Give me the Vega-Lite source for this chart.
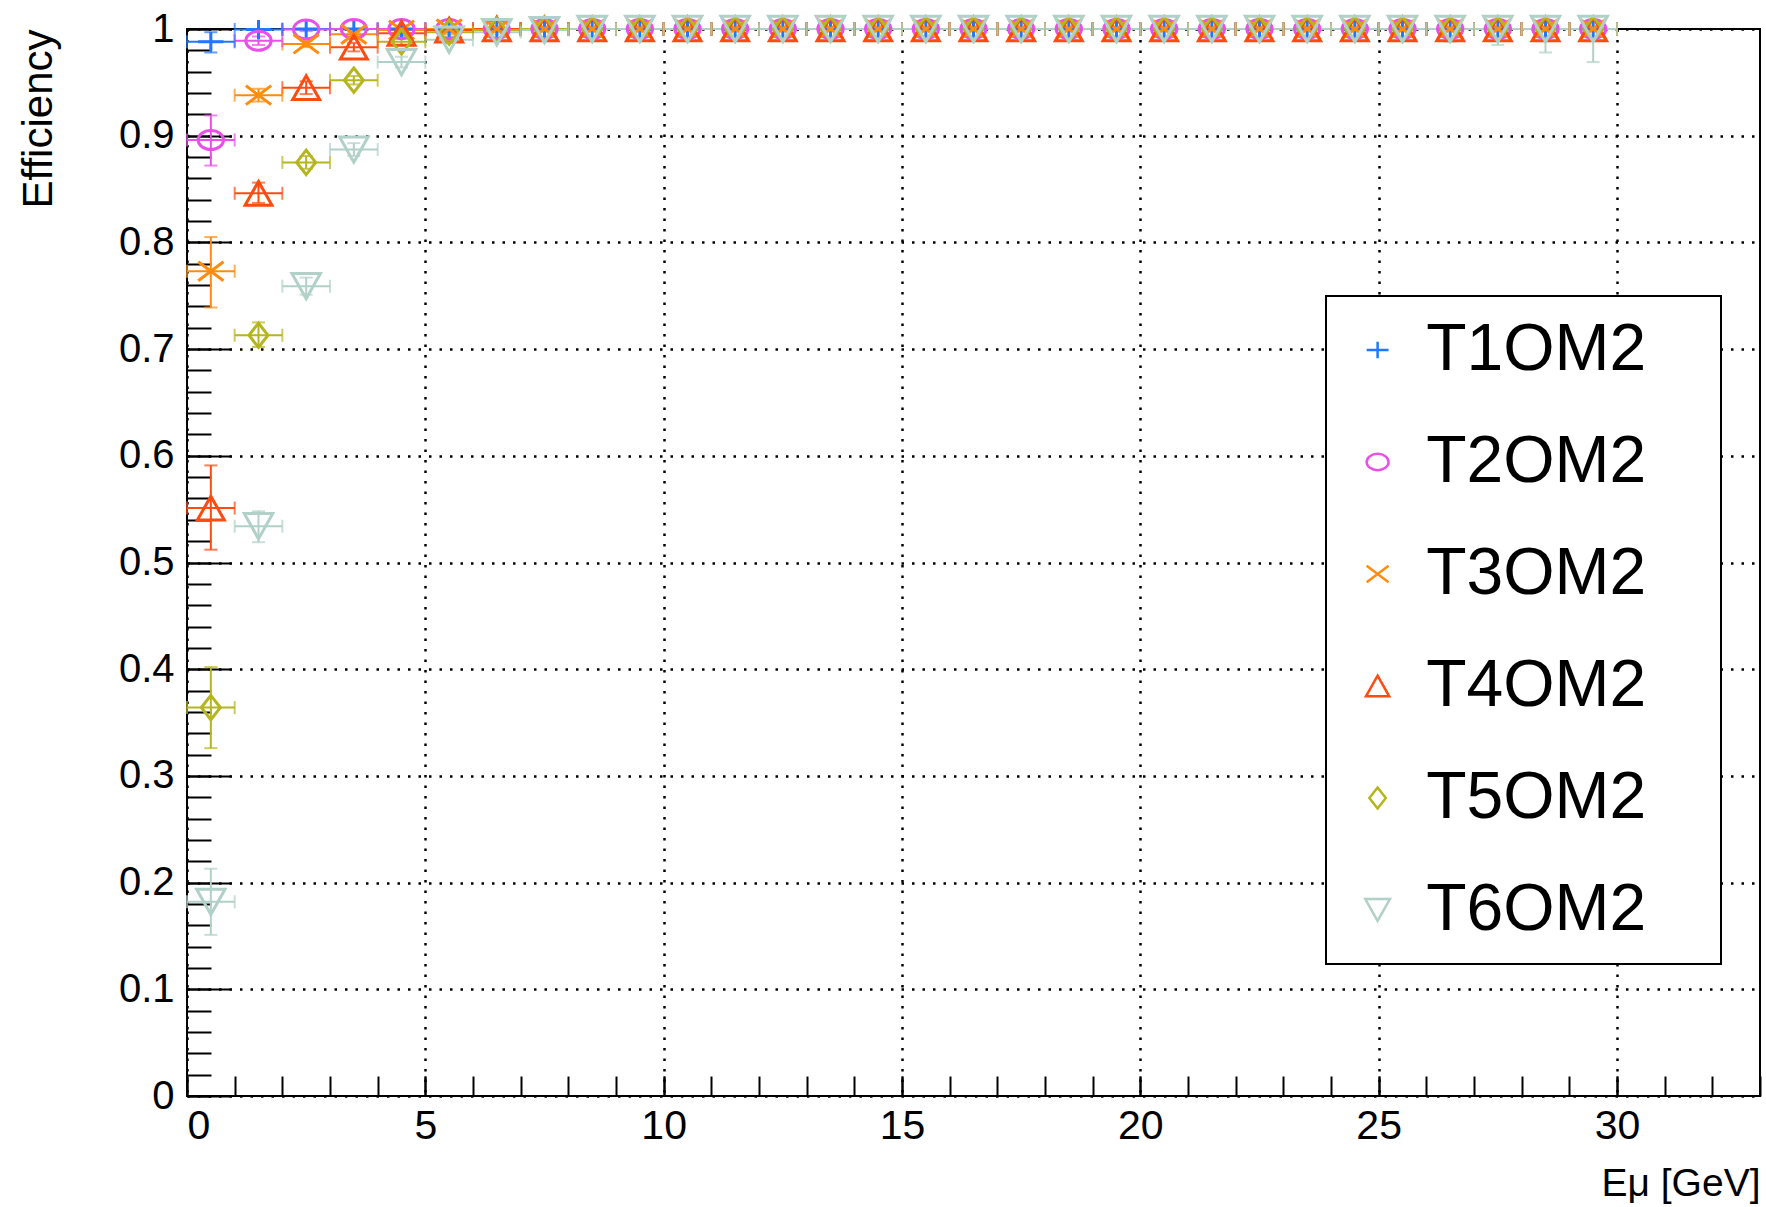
{
"$schema": "https://vega.github.io/schema/vega-lite/v6.json",
"autosize": {"type": "none"},
"width": 1573, "height": 1067,
"padding": {"left": 187, "top": 29, "right": 6, "bottom": 111},
"background": "white",
"config": {"font": "Liberation Sans", "view": {"stroke": "black", "strokeWidth": 2}, "legend": {"strokeWidth": 2}},
"data": {"values": [
{"s":"T1OM2","x":0.5,"xl":0,"xh":1,"y":0.988,"yl":0.978,"yh":0.997},
{"s":"T1OM2","x":1.5,"xl":1,"xh":2,"y":0.9995,"yl":0.998,"yh":1},
{"s":"T1OM2","x":2.5,"xl":2,"xh":3,"y":1,"yl":1,"yh":1},
{"s":"T1OM2","x":3.5,"xl":3,"xh":4,"y":1,"yl":1,"yh":1},
{"s":"T1OM2","x":4.5,"xl":4,"xh":5,"y":1,"yl":1,"yh":1},
{"s":"T1OM2","x":5.5,"xl":5,"xh":6,"y":1,"yl":1,"yh":1},
{"s":"T1OM2","x":6.5,"xl":6,"xh":7,"y":1,"yl":1,"yh":1},
{"s":"T1OM2","x":7.5,"xl":7,"xh":8,"y":1,"yl":1,"yh":1},
{"s":"T1OM2","x":8.5,"xl":8,"xh":9,"y":1,"yl":1,"yh":1},
{"s":"T1OM2","x":9.5,"xl":9,"xh":10,"y":1,"yl":1,"yh":1},
{"s":"T1OM2","x":10.5,"xl":10,"xh":11,"y":1,"yl":1,"yh":1},
{"s":"T1OM2","x":11.5,"xl":11,"xh":12,"y":1,"yl":1,"yh":1},
{"s":"T1OM2","x":12.5,"xl":12,"xh":13,"y":1,"yl":1,"yh":1},
{"s":"T1OM2","x":13.5,"xl":13,"xh":14,"y":1,"yl":1,"yh":1},
{"s":"T1OM2","x":14.5,"xl":14,"xh":15,"y":1,"yl":1,"yh":1},
{"s":"T1OM2","x":15.5,"xl":15,"xh":16,"y":1,"yl":1,"yh":1},
{"s":"T1OM2","x":16.5,"xl":16,"xh":17,"y":1,"yl":1,"yh":1},
{"s":"T1OM2","x":17.5,"xl":17,"xh":18,"y":1,"yl":1,"yh":1},
{"s":"T1OM2","x":18.5,"xl":18,"xh":19,"y":1,"yl":1,"yh":1},
{"s":"T1OM2","x":19.5,"xl":19,"xh":20,"y":1,"yl":1,"yh":1},
{"s":"T1OM2","x":20.5,"xl":20,"xh":21,"y":1,"yl":1,"yh":1},
{"s":"T1OM2","x":21.5,"xl":21,"xh":22,"y":1,"yl":1,"yh":1},
{"s":"T1OM2","x":22.5,"xl":22,"xh":23,"y":1,"yl":1,"yh":1},
{"s":"T1OM2","x":23.5,"xl":23,"xh":24,"y":1,"yl":1,"yh":1},
{"s":"T1OM2","x":24.5,"xl":24,"xh":25,"y":1,"yl":1,"yh":1},
{"s":"T1OM2","x":25.5,"xl":25,"xh":26,"y":1,"yl":1,"yh":1},
{"s":"T1OM2","x":26.5,"xl":26,"xh":27,"y":1,"yl":1,"yh":1},
{"s":"T1OM2","x":27.5,"xl":27,"xh":28,"y":1,"yl":1,"yh":1},
{"s":"T1OM2","x":28.5,"xl":28,"xh":29,"y":1,"yl":1,"yh":1},
{"s":"T1OM2","x":29.5,"xl":29,"xh":30,"y":1,"yl":1,"yh":1},
{"s":"T2OM2","x":0.5,"xl":0,"xh":1,"y":0.896,"yl":0.872,"yh":0.919},
{"s":"T2OM2","x":1.5,"xl":1,"xh":2,"y":0.989,"yl":0.985,"yh":0.993},
{"s":"T2OM2","x":2.5,"xl":2,"xh":3,"y":0.9995,"yl":0.998,"yh":1},
{"s":"T2OM2","x":3.5,"xl":3,"xh":4,"y":1,"yl":1,"yh":1},
{"s":"T2OM2","x":4.5,"xl":4,"xh":5,"y":1,"yl":1,"yh":1},
{"s":"T2OM2","x":5.5,"xl":5,"xh":6,"y":1,"yl":1,"yh":1},
{"s":"T2OM2","x":6.5,"xl":6,"xh":7,"y":1,"yl":1,"yh":1},
{"s":"T2OM2","x":7.5,"xl":7,"xh":8,"y":1,"yl":1,"yh":1},
{"s":"T2OM2","x":8.5,"xl":8,"xh":9,"y":1,"yl":1,"yh":1},
{"s":"T2OM2","x":9.5,"xl":9,"xh":10,"y":1,"yl":1,"yh":1},
{"s":"T2OM2","x":10.5,"xl":10,"xh":11,"y":1,"yl":1,"yh":1},
{"s":"T2OM2","x":11.5,"xl":11,"xh":12,"y":1,"yl":1,"yh":1},
{"s":"T2OM2","x":12.5,"xl":12,"xh":13,"y":1,"yl":1,"yh":1},
{"s":"T2OM2","x":13.5,"xl":13,"xh":14,"y":1,"yl":1,"yh":1},
{"s":"T2OM2","x":14.5,"xl":14,"xh":15,"y":1,"yl":1,"yh":1},
{"s":"T2OM2","x":15.5,"xl":15,"xh":16,"y":1,"yl":1,"yh":1},
{"s":"T2OM2","x":16.5,"xl":16,"xh":17,"y":1,"yl":1,"yh":1},
{"s":"T2OM2","x":17.5,"xl":17,"xh":18,"y":1,"yl":1,"yh":1},
{"s":"T2OM2","x":18.5,"xl":18,"xh":19,"y":1,"yl":1,"yh":1},
{"s":"T2OM2","x":19.5,"xl":19,"xh":20,"y":1,"yl":1,"yh":1},
{"s":"T2OM2","x":20.5,"xl":20,"xh":21,"y":1,"yl":1,"yh":1},
{"s":"T2OM2","x":21.5,"xl":21,"xh":22,"y":1,"yl":1,"yh":1},
{"s":"T2OM2","x":22.5,"xl":22,"xh":23,"y":1,"yl":1,"yh":1},
{"s":"T2OM2","x":23.5,"xl":23,"xh":24,"y":1,"yl":1,"yh":1},
{"s":"T2OM2","x":24.5,"xl":24,"xh":25,"y":1,"yl":1,"yh":1},
{"s":"T2OM2","x":25.5,"xl":25,"xh":26,"y":1,"yl":1,"yh":1},
{"s":"T2OM2","x":26.5,"xl":26,"xh":27,"y":1,"yl":1,"yh":1},
{"s":"T2OM2","x":27.5,"xl":27,"xh":28,"y":1,"yl":1,"yh":1},
{"s":"T2OM2","x":28.5,"xl":28,"xh":29,"y":1,"yl":1,"yh":1},
{"s":"T2OM2","x":29.5,"xl":29,"xh":30,"y":1,"yl":1,"yh":1},
{"s":"T3OM2","x":0.5,"xl":0,"xh":1,"y":0.773,"yl":0.739,"yh":0.805},
{"s":"T3OM2","x":1.5,"xl":1,"xh":2,"y":0.938,"yl":0.932,"yh":0.944},
{"s":"T3OM2","x":2.5,"xl":2,"xh":3,"y":0.986,"yl":0.983,"yh":0.989},
{"s":"T3OM2","x":3.5,"xl":3,"xh":4,"y":0.995,"yl":0.993,"yh":0.997},
{"s":"T3OM2","x":4.5,"xl":4,"xh":5,"y":0.999,"yl":0.998,"yh":1},
{"s":"T3OM2","x":5.5,"xl":5,"xh":6,"y":1,"yl":1,"yh":1},
{"s":"T3OM2","x":6.5,"xl":6,"xh":7,"y":1,"yl":1,"yh":1},
{"s":"T3OM2","x":7.5,"xl":7,"xh":8,"y":1,"yl":1,"yh":1},
{"s":"T3OM2","x":8.5,"xl":8,"xh":9,"y":1,"yl":1,"yh":1},
{"s":"T3OM2","x":9.5,"xl":9,"xh":10,"y":1,"yl":1,"yh":1},
{"s":"T3OM2","x":10.5,"xl":10,"xh":11,"y":1,"yl":1,"yh":1},
{"s":"T3OM2","x":11.5,"xl":11,"xh":12,"y":1,"yl":1,"yh":1},
{"s":"T3OM2","x":12.5,"xl":12,"xh":13,"y":1,"yl":1,"yh":1},
{"s":"T3OM2","x":13.5,"xl":13,"xh":14,"y":1,"yl":1,"yh":1},
{"s":"T3OM2","x":14.5,"xl":14,"xh":15,"y":1,"yl":1,"yh":1},
{"s":"T3OM2","x":15.5,"xl":15,"xh":16,"y":1,"yl":1,"yh":1},
{"s":"T3OM2","x":16.5,"xl":16,"xh":17,"y":1,"yl":1,"yh":1},
{"s":"T3OM2","x":17.5,"xl":17,"xh":18,"y":1,"yl":1,"yh":1},
{"s":"T3OM2","x":18.5,"xl":18,"xh":19,"y":1,"yl":1,"yh":1},
{"s":"T3OM2","x":19.5,"xl":19,"xh":20,"y":1,"yl":1,"yh":1},
{"s":"T3OM2","x":20.5,"xl":20,"xh":21,"y":1,"yl":1,"yh":1},
{"s":"T3OM2","x":21.5,"xl":21,"xh":22,"y":1,"yl":1,"yh":1},
{"s":"T3OM2","x":22.5,"xl":22,"xh":23,"y":1,"yl":1,"yh":1},
{"s":"T3OM2","x":23.5,"xl":23,"xh":24,"y":1,"yl":1,"yh":1},
{"s":"T3OM2","x":24.5,"xl":24,"xh":25,"y":1,"yl":1,"yh":1},
{"s":"T3OM2","x":25.5,"xl":25,"xh":26,"y":1,"yl":1,"yh":1},
{"s":"T3OM2","x":26.5,"xl":26,"xh":27,"y":1,"yl":1,"yh":1},
{"s":"T3OM2","x":27.5,"xl":27,"xh":28,"y":1,"yl":1,"yh":1},
{"s":"T3OM2","x":28.5,"xl":28,"xh":29,"y":1,"yl":1,"yh":1},
{"s":"T3OM2","x":29.5,"xl":29,"xh":30,"y":1,"yl":1,"yh":1},
{"s":"T4OM2","x":0.5,"xl":0,"xh":1,"y":0.551,"yl":0.512,"yh":0.591},
{"s":"T4OM2","x":1.5,"xl":1,"xh":2,"y":0.846,"yl":0.837,"yh":0.856},
{"s":"T4OM2","x":2.5,"xl":2,"xh":3,"y":0.945,"yl":0.939,"yh":0.951},
{"s":"T4OM2","x":3.5,"xl":3,"xh":4,"y":0.983,"yl":0.979,"yh":0.987},
{"s":"T4OM2","x":4.5,"xl":4,"xh":5,"y":0.996,"yl":0.994,"yh":0.998},
{"s":"T4OM2","x":5.5,"xl":5,"xh":6,"y":0.999,"yl":0.998,"yh":1},
{"s":"T4OM2","x":6.5,"xl":6,"xh":7,"y":1,"yl":1,"yh":1},
{"s":"T4OM2","x":7.5,"xl":7,"xh":8,"y":1,"yl":1,"yh":1},
{"s":"T4OM2","x":8.5,"xl":8,"xh":9,"y":1,"yl":1,"yh":1},
{"s":"T4OM2","x":9.5,"xl":9,"xh":10,"y":1,"yl":1,"yh":1},
{"s":"T4OM2","x":10.5,"xl":10,"xh":11,"y":1,"yl":1,"yh":1},
{"s":"T4OM2","x":11.5,"xl":11,"xh":12,"y":1,"yl":1,"yh":1},
{"s":"T4OM2","x":12.5,"xl":12,"xh":13,"y":1,"yl":1,"yh":1},
{"s":"T4OM2","x":13.5,"xl":13,"xh":14,"y":1,"yl":1,"yh":1},
{"s":"T4OM2","x":14.5,"xl":14,"xh":15,"y":1,"yl":1,"yh":1},
{"s":"T4OM2","x":15.5,"xl":15,"xh":16,"y":1,"yl":1,"yh":1},
{"s":"T4OM2","x":16.5,"xl":16,"xh":17,"y":1,"yl":1,"yh":1},
{"s":"T4OM2","x":17.5,"xl":17,"xh":18,"y":1,"yl":1,"yh":1},
{"s":"T4OM2","x":18.5,"xl":18,"xh":19,"y":1,"yl":1,"yh":1},
{"s":"T4OM2","x":19.5,"xl":19,"xh":20,"y":1,"yl":1,"yh":1},
{"s":"T4OM2","x":20.5,"xl":20,"xh":21,"y":1,"yl":1,"yh":1},
{"s":"T4OM2","x":21.5,"xl":21,"xh":22,"y":1,"yl":1,"yh":1},
{"s":"T4OM2","x":22.5,"xl":22,"xh":23,"y":1,"yl":1,"yh":1},
{"s":"T4OM2","x":23.5,"xl":23,"xh":24,"y":1,"yl":1,"yh":1},
{"s":"T4OM2","x":24.5,"xl":24,"xh":25,"y":1,"yl":1,"yh":1},
{"s":"T4OM2","x":25.5,"xl":25,"xh":26,"y":1,"yl":1,"yh":1},
{"s":"T4OM2","x":26.5,"xl":26,"xh":27,"y":1,"yl":1,"yh":1},
{"s":"T4OM2","x":27.5,"xl":27,"xh":28,"y":1,"yl":1,"yh":1},
{"s":"T4OM2","x":28.5,"xl":28,"xh":29,"y":1,"yl":1,"yh":1},
{"s":"T4OM2","x":29.5,"xl":29,"xh":30,"y":1,"yl":1,"yh":1},
{"s":"T5OM2","x":0.5,"xl":0,"xh":1,"y":0.364,"yl":0.326,"yh":0.402},
{"s":"T5OM2","x":1.5,"xl":1,"xh":2,"y":0.713,"yl":0.702,"yh":0.725},
{"s":"T5OM2","x":2.5,"xl":2,"xh":3,"y":0.875,"yl":0.869,"yh":0.881},
{"s":"T5OM2","x":3.5,"xl":3,"xh":4,"y":0.952,"yl":0.948,"yh":0.956},
{"s":"T5OM2","x":4.5,"xl":4,"xh":5,"y":0.988,"yl":0.985,"yh":0.991},
{"s":"T5OM2","x":5.5,"xl":5,"xh":6,"y":0.997,"yl":0.995,"yh":0.999},
{"s":"T5OM2","x":6.5,"xl":6,"xh":7,"y":0.999,"yl":0.998,"yh":1},
{"s":"T5OM2","x":7.5,"xl":7,"xh":8,"y":1,"yl":1,"yh":1},
{"s":"T5OM2","x":8.5,"xl":8,"xh":9,"y":1,"yl":1,"yh":1},
{"s":"T5OM2","x":9.5,"xl":9,"xh":10,"y":1,"yl":1,"yh":1},
{"s":"T5OM2","x":10.5,"xl":10,"xh":11,"y":1,"yl":1,"yh":1},
{"s":"T5OM2","x":11.5,"xl":11,"xh":12,"y":1,"yl":1,"yh":1},
{"s":"T5OM2","x":12.5,"xl":12,"xh":13,"y":1,"yl":1,"yh":1},
{"s":"T5OM2","x":13.5,"xl":13,"xh":14,"y":1,"yl":1,"yh":1},
{"s":"T5OM2","x":14.5,"xl":14,"xh":15,"y":1,"yl":1,"yh":1},
{"s":"T5OM2","x":15.5,"xl":15,"xh":16,"y":1,"yl":1,"yh":1},
{"s":"T5OM2","x":16.5,"xl":16,"xh":17,"y":1,"yl":1,"yh":1},
{"s":"T5OM2","x":17.5,"xl":17,"xh":18,"y":1,"yl":1,"yh":1},
{"s":"T5OM2","x":18.5,"xl":18,"xh":19,"y":1,"yl":1,"yh":1},
{"s":"T5OM2","x":19.5,"xl":19,"xh":20,"y":1,"yl":1,"yh":1},
{"s":"T5OM2","x":20.5,"xl":20,"xh":21,"y":1,"yl":1,"yh":1},
{"s":"T5OM2","x":21.5,"xl":21,"xh":22,"y":1,"yl":1,"yh":1},
{"s":"T5OM2","x":22.5,"xl":22,"xh":23,"y":1,"yl":1,"yh":1},
{"s":"T5OM2","x":23.5,"xl":23,"xh":24,"y":1,"yl":1,"yh":1},
{"s":"T5OM2","x":24.5,"xl":24,"xh":25,"y":1,"yl":1,"yh":1},
{"s":"T5OM2","x":25.5,"xl":25,"xh":26,"y":1,"yl":1,"yh":1},
{"s":"T5OM2","x":26.5,"xl":26,"xh":27,"y":1,"yl":1,"yh":1},
{"s":"T5OM2","x":27.5,"xl":27,"xh":28,"y":1,"yl":1,"yh":1},
{"s":"T5OM2","x":28.5,"xl":28,"xh":29,"y":1,"yl":1,"yh":1},
{"s":"T5OM2","x":29.5,"xl":29,"xh":30,"y":1,"yl":1,"yh":1},
{"s":"T6OM2","x":0.5,"xl":0,"xh":1,"y":0.182,"yl":0.151,"yh":0.213},
{"s":"T6OM2","x":1.5,"xl":1,"xh":2,"y":0.534,"yl":0.519,"yh":0.548},
{"s":"T6OM2","x":2.5,"xl":2,"xh":3,"y":0.759,"yl":0.751,"yh":0.767},
{"s":"T6OM2","x":3.5,"xl":3,"xh":4,"y":0.887,"yl":0.881,"yh":0.893},
{"s":"T6OM2","x":4.5,"xl":4,"xh":5,"y":0.969,"yl":0.964,"yh":0.974},
{"s":"T6OM2","x":5.5,"xl":5,"xh":6,"y":0.99,"yl":0.987,"yh":0.993},
{"s":"T6OM2","x":6.5,"xl":6,"xh":7,"y":0.997,"yl":0.995,"yh":0.999},
{"s":"T6OM2","x":7.5,"xl":7,"xh":8,"y":0.999,"yl":0.998,"yh":1},
{"s":"T6OM2","x":8.5,"xl":8,"xh":9,"y":1,"yl":1,"yh":1},
{"s":"T6OM2","x":9.5,"xl":9,"xh":10,"y":1,"yl":1,"yh":1},
{"s":"T6OM2","x":10.5,"xl":10,"xh":11,"y":1,"yl":1,"yh":1},
{"s":"T6OM2","x":11.5,"xl":11,"xh":12,"y":1,"yl":1,"yh":1},
{"s":"T6OM2","x":12.5,"xl":12,"xh":13,"y":1,"yl":1,"yh":1},
{"s":"T6OM2","x":13.5,"xl":13,"xh":14,"y":1,"yl":1,"yh":1},
{"s":"T6OM2","x":14.5,"xl":14,"xh":15,"y":1,"yl":1,"yh":1},
{"s":"T6OM2","x":15.5,"xl":15,"xh":16,"y":1,"yl":1,"yh":1},
{"s":"T6OM2","x":16.5,"xl":16,"xh":17,"y":1,"yl":1,"yh":1},
{"s":"T6OM2","x":17.5,"xl":17,"xh":18,"y":1,"yl":1,"yh":1},
{"s":"T6OM2","x":18.5,"xl":18,"xh":19,"y":1,"yl":1,"yh":1},
{"s":"T6OM2","x":19.5,"xl":19,"xh":20,"y":1,"yl":1,"yh":1},
{"s":"T6OM2","x":20.5,"xl":20,"xh":21,"y":1,"yl":1,"yh":1},
{"s":"T6OM2","x":21.5,"xl":21,"xh":22,"y":1,"yl":1,"yh":1},
{"s":"T6OM2","x":22.5,"xl":22,"xh":23,"y":1,"yl":1,"yh":1},
{"s":"T6OM2","x":23.5,"xl":23,"xh":24,"y":1,"yl":1,"yh":1},
{"s":"T6OM2","x":24.5,"xl":24,"xh":25,"y":1,"yl":1,"yh":1},
{"s":"T6OM2","x":25.5,"xl":25,"xh":26,"y":1,"yl":1,"yh":1},
{"s":"T6OM2","x":26.5,"xl":26,"xh":27,"y":1,"yl":0.988,"yh":1},
{"s":"T6OM2","x":27.5,"xl":27,"xh":28,"y":1,"yl":0.985,"yh":1},
{"s":"T6OM2","x":28.5,"xl":28,"xh":29,"y":1,"yl":0.978,"yh":1},
{"s":"T6OM2","x":29.5,"xl":29,"xh":30,"y":1,"yl":0.969,"yh":1}
]},
"resolve": {"axis": {"x": "independent", "y": "independent"}, "legend": {"color": "independent", "shape": "independent"}},
"layer": [
{
 "mark": {"type": "rule", "strokeWidth": 2},
 "encoding": {
  "x": {"field": "xl", "type": "quantitative", "scale": {"domain": [0, 33], "nice": false, "zero": false},
   "axis": {"orient": "bottom", "values": [0,1,2,3,4,5,6,7,8,9,10,11,12,13,14,15,16,17,18,19,20,21,22,23,24,25,26,27,28,29,30,31,32,33], "labels": false, "grid": false, "domain": false, "tickSize": -20, "tickWidth": 2, "tickColor": "black", "title": null}},
  "x2": {"field": "xh"},
  "y": {"field": "y", "type": "quantitative", "scale": {"domain": [0, 1], "nice": false, "zero": false},
   "axis": {"orient": "left", "values": [0,0.02,0.04,0.06,0.08,0.1,0.12,0.14,0.16,0.18,0.2,0.22,0.24,0.26,0.28,0.3,0.32,0.34,0.36,0.38,0.4,0.42,0.44,0.46,0.48,0.5,0.52,0.54,0.56,0.58,0.6,0.62,0.64,0.66,0.68,0.7,0.72,0.74,0.76,0.78,0.8,0.82,0.84,0.86,0.88,0.9,0.92,0.94,0.96,0.98,1], "labels": false, "grid": false, "domain": false, "tickSize": -24, "tickWidth": 2, "tickColor": "black", "title": null}},
  "color": {"field": "s", "type": "nominal", "legend": null}
 }
},
{
 "mark": {"type": "tick", "orient": "vertical", "size": 13, "thickness": 2},
 "encoding": {
  "x": {"field": "xl", "type": "quantitative", "axis": null},
  "y": {"field": "y", "type": "quantitative", "axis": null},
  "color": {"field": "s", "type": "nominal", "legend": null}
 }
},
{
 "mark": {"type": "tick", "orient": "vertical", "size": 13, "thickness": 2},
 "encoding": {
  "x": {"field": "xh", "type": "quantitative", "axis": null},
  "y": {"field": "y", "type": "quantitative", "axis": null},
  "color": {"field": "s", "type": "nominal", "legend": null}
 }
},
{
 "transform": [{"filter": "datum.yh > datum.yl"}],
 "mark": {"type": "rule", "strokeWidth": 2},
 "encoding": {
  "x": {"field": "x", "type": "quantitative", "axis": null},
  "y": {"field": "yl", "type": "quantitative", "axis": null},
  "y2": {"field": "yh"},
  "color": {"field": "s", "type": "nominal", "legend": null}
 }
},
{
 "transform": [{"filter": "datum.yh > datum.yl"}],
 "mark": {"type": "tick", "orient": "horizontal", "size": 13, "thickness": 2},
 "encoding": {
  "x": {"field": "x", "type": "quantitative", "axis": null},
  "y": {"field": "yl", "type": "quantitative", "axis": null},
  "color": {"field": "s", "type": "nominal", "legend": null}
 }
},
{
 "transform": [{"filter": "datum.yh > datum.yl"}],
 "mark": {"type": "tick", "orient": "horizontal", "size": 13, "thickness": 2},
 "encoding": {
  "x": {"field": "x", "type": "quantitative", "axis": null},
  "y": {"field": "yh", "type": "quantitative", "axis": null},
  "color": {"field": "s", "type": "nominal", "legend": null}
 }
},
{
 "mark": {"type": "point", "filled": false, "size": 1000, "strokeWidth": 3, "opacity": 1},
 "encoding": {
  "x": {"field": "x", "type": "quantitative", "scale": {"domain": [0, 33], "nice": false, "zero": false},
   "axis": {"orient": "bottom", "values": [0,5,10,15,20,25,30], "format": "~g", "grid": true, "gridColor": "black", "gridDash": [2.5,8], "gridWidth": 2.5, "gridOpacity": 1, "domain": false, "tickSize": -20, "tickWidth": 2, "tickColor": "black", "labelPadding": 30, "labelFontSize": 41, "labelColor": "black", "labelFont": "Liberation Sans", "title": "Eμ [GeV]", "titleFontSize": 39, "titleFontWeight": "normal", "titleColor": "black", "titleFont": "Liberation Sans", "titleAnchor": "end", "titlePadding": 18}},
  "y": {"field": "y", "type": "quantitative", "scale": {"domain": [0, 1], "nice": false, "zero": false},
   "axis": {"orient": "left", "values": [0,0.1,0.2,0.3,0.4,0.5,0.6,0.7,0.8,0.9,1], "format": "~g", "grid": true, "gridColor": "black", "gridDash": [2.5,8], "gridWidth": 2.5, "gridOpacity": 1, "domain": false, "tickSize": -44, "tickWidth": 2, "tickColor": "black", "labelPadding": 57, "labelFontSize": 40, "labelColor": "black", "labelFont": "Liberation Sans", "title": "Efficiency", "titleFontSize": 42, "titleFontWeight": "normal", "titleColor": "black", "titleFont": "Liberation Sans", "titleAnchor": "end", "titlePadding": 58}},
  "color": {"field": "s", "type": "nominal",
   "scale": {"domain": ["T1OM2","T2OM2","T3OM2","T4OM2","T5OM2","T6OM2"], "range": ["#1f78ff","#e94fe9","#ff8c10","#ff4a10","#b5b520","#b0d0c8"]},
   "legend": {"title": "T", "titleOrient": "right", "titlePadding": 53, "titleFontSize": 1, "titleOpacity": 0, "orient": "none", "legendX": 1139, "legendY": 267, "direction": "vertical", "strokeColor": "black", "fillColor": "white", "padding": 21, "labelFontSize": 66, "labelLimit": 600, "labelFont": "Liberation Sans", "labelColor": "black", "symbolSize": 750, "symbolStrokeWidth": 2.5, "symbolOffset": -2.4, "labelOffset": 15.6, "rowPadding": 46}},
  "shape": {"field": "s", "type": "nominal",
   "scale": {"domain": ["T1OM2","T2OM2","T3OM2","T4OM2","T5OM2","T6OM2"], "range": [
    "M-0.8,0H0.8M0,-0.6V0.6",
    "M-0.8,0A0.8,0.6 0 1,0 0.8,0A0.8,0.6 0 1,0 -0.8,0Z",
    "M-0.8,-0.6L0.8,0.6M-0.8,0.6L0.8,-0.6",
    "M0,-0.75L0.85,0.75L-0.85,0.75Z",
    "M0,-0.77L0.6,0L0,0.77L-0.6,0Z",
    "M0,0.8L0.9,-0.8L-0.9,-0.8Z"]},
   "legend": {"title": "T", "titleOrient": "right", "titlePadding": 53, "titleFontSize": 1, "titleOpacity": 0, "orient": "none", "legendX": 1139, "legendY": 267, "direction": "vertical", "strokeColor": "black", "fillColor": "white", "padding": 21, "labelFontSize": 66, "labelLimit": 600, "labelFont": "Liberation Sans", "labelColor": "black", "symbolSize": 750, "symbolStrokeWidth": 2.5, "symbolOffset": -2.4, "labelOffset": 15.6, "rowPadding": 46}}
 }
}
]
}
